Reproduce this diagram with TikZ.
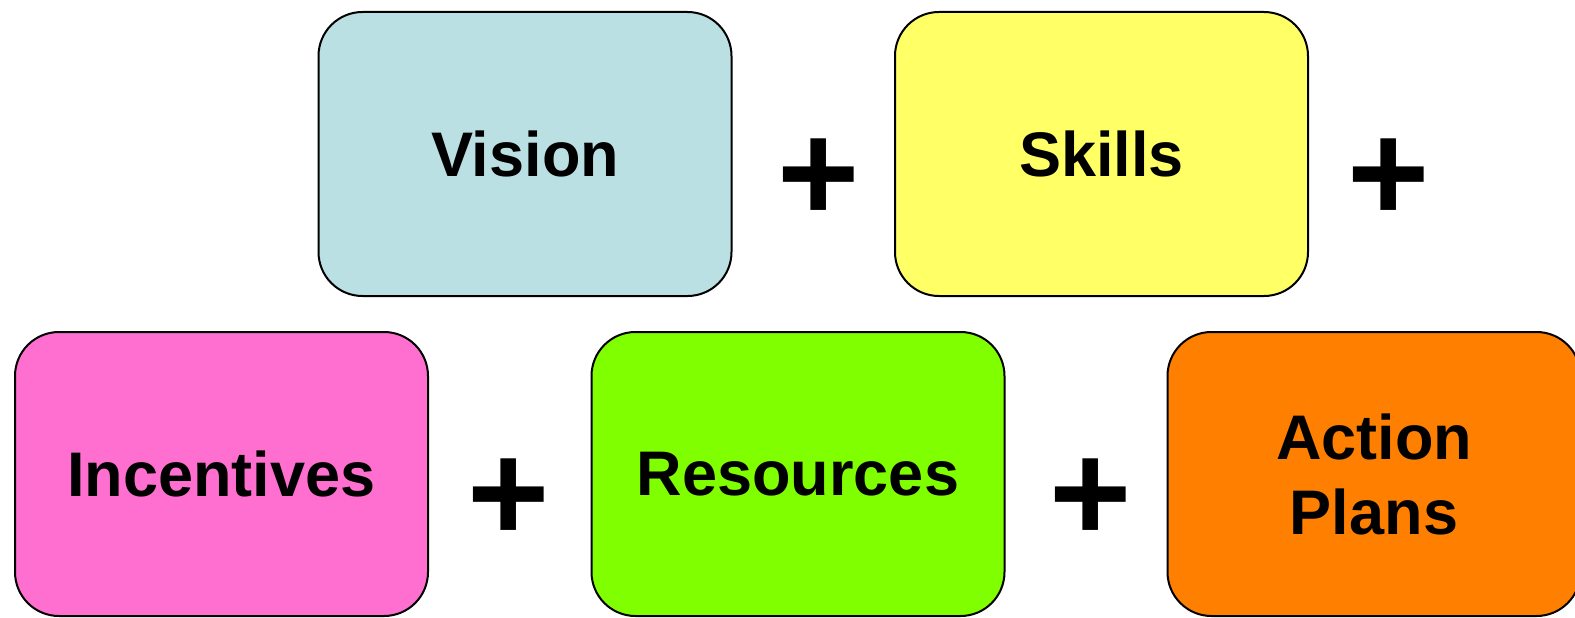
\documentclass[tikz,border=0pt]{standalone}
\usepackage{fontspec}
\setmainfont{Liberation Sans}
\begin{document}
\begin{tikzpicture}[x=1pt,y=-1pt,
  card/.style={draw=black, line width=2pt, rounded corners=44pt,
    minimum width=413pt, minimum height=284pt, inner sep=0pt,
    align=center, font=\fontsize{63}{75}\selectfont\bfseries},
  plus/.style={inner sep=0pt, font=\fontsize{141}{141}\selectfont\bfseries}]
\definecolor{cvision}{HTML}{BBE0E3}
\definecolor{cskills}{HTML}{FFFF66}
\definecolor{cincent}{HTML}{FF6FCF}
\definecolor{cres}{HTML}{80FF00}
\definecolor{caction}{HTML}{FF8000}
\useasboundingbox (0,0) rectangle (1575,618);
\node[card, fill=cvision] (vision) at (525,154) {Vision};
\node[card, fill=cskills] (skills) at (1101.5,154) {Skills};
\node[card, fill=cincent] (incent) at (221.5,474) {Incentives};
\node[card, fill=cres] (res) at (798,474) {Resources};
\node[card, fill=caction] (action) at (1374,474) {Action\\Plans};
\node[plus] (p1) at (819,180) {+};
\node[plus] (p2) at (1389,180) {+};
\node[plus] (p3) at (509,500) {+};
\node[plus] (p4) at (1091,500) {+};
\end{tikzpicture}
\end{document}
